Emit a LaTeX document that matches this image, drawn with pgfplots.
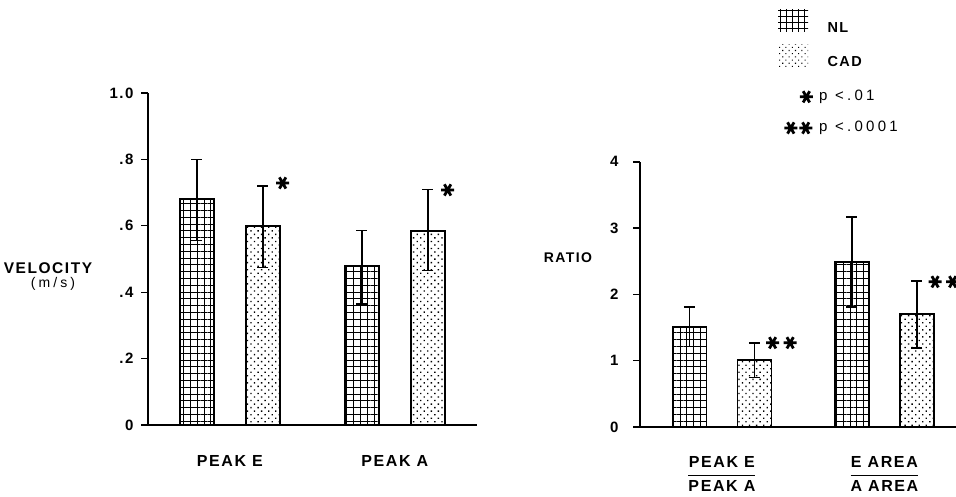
\documentclass[border=0pt]{standalone}
\usepackage{pgfplots}
\pgfplotsset{compat=1.18}
\usetikzlibrary{patterns.meta}
\usepackage{fontspec}
\setmainfont{Liberation Sans}[LetterSpace=10]
\newfontfamily\legfont{Liberation Sans}[LetterSpace=22]
\setlength\arrayrulewidth{1.3pt}
\begin{document}
\begin{tikzpicture}[x=1pt,y=1pt]
\useasboundingbox (0pt,0pt) rectangle (956pt,496pt);
\pgfplotsset{
  nlbar/.style={ybar, bar width=34pt, bar shift=0pt, draw=black, line width=1.8pt,
    fill=white, postaction={pattern={Hatch[angle=0,distance=6.8pt,line width=0.9pt]}},
    error bars/.cd, y dir=both, y explicit,
    error bar style={line width=1.4pt,black},
    error mark options={rotate=90, mark size=5.5pt, line width=1.4pt, black}},
  cadbar/.style={ybar, bar width=34pt, bar shift=0pt, draw=black, line width=1.8pt,
    fill=white, postaction={pattern={Dots[angle=45,distance=5pt,radius=0.95pt]}},
    error bars/.cd, y dir=both, y explicit,
    error bar style={line width=1.4pt,black},
    error mark options={rotate=90, mark size=5.5pt, line width=1.4pt, black}},
  starmark/.style={only marks, mark=asterisk,
    mark options={rotate=90, mark size=6.5pt, line width=2.8pt, black}},
  myaxis/.style={
    anchor=south west,
    axis x line=bottom, axis y line=left,
    axis line style={-, line width=1.7pt},
    tick align=outside, major tick length=7pt,
    tick style={line width=1.4pt, black},
    xtick style={draw=none},
    clip=false,
    font=\fontsize{15}{17}\selectfont\bfseries,
    xticklabel style={font=\fontsize{16}{18}\selectfont\bfseries, align=center},
    yticklabel style={font=\fontsize{15}{17}\selectfont\bfseries},
  },
}
% ---------------- left panel
\begin{axis}[myaxis, at={(148pt,71pt)}, x=66pt, y=332pt,
  xmin=-0.74, xmax=4.24, ymin=0, ymax=1,
  yticklabel style={xshift=-4pt},
  xticklabel style={yshift=-20pt},
  ytick={0,0.2,0.4,0.6,0.8,1.0}, yticklabels={0,.2,.4,.6,.8,1.0},
  xtick={0.5,3}, xticklabels={PEAK E,PEAK A}]
\addplot[nlbar] coordinates {(0,0.68) += (0,0.12) -= (0,0.125) (2.5,0.48) += (0,0.105) -= (0,0.115)};
\addplot[cadbar] coordinates {(1,0.60) += (0,0.12) -= (0,0.125) (3.5,0.585) += (0,0.125) -= (0,0.12)};
\addplot[starmark] coordinates {(1.30,0.729) (3.80,0.708)};
\end{axis}
% ---------------- right panel
\begin{axis}[myaxis, at={(640pt,69pt)}, x=65pt, y=66.3pt,
  xmin=-0.76, xmax=4.3, ymin=0, ymax=4,
  yticklabel style={xshift=-11pt},
  xticklabel style={yshift=-17pt},
  ytick={0,1,2,3,4}, yticklabels={0,1,2,3,4},
  xtick={0.5,3},
  xticklabels={{\begin{tabular}{@{}c@{}}PEAK E\\[2pt]\hline\noalign{\vskip3pt}PEAK A\end{tabular}},
               {\begin{tabular}{@{}c@{}}E AREA\\[2pt]\hline\noalign{\vskip3pt}A AREA\end{tabular}}}]
\addplot[nlbar] coordinates {(0,1.51) += (0,0.30) -= (0,0.30) (2.5,2.49) += (0,0.68) -= (0,0.68)};
\addplot[cadbar] coordinates {(1,1.01) += (0,0.26) -= (0,0.26) (3.5,1.70) += (0,0.50) -= (0,0.51)};
\addplot[starmark] coordinates {(1.28,1.27) (1.55,1.27) (3.78,2.19) (4.05,2.19)};
% legend stars
\addplot[starmark] coordinates {(1.80,4.98) (1.56,4.51) (1.79,4.51)};
\end{axis}
% ---------------- labels
\node[font=\fontsize{15.5}{17}\selectfont\bfseries] at (48pt,228pt) {VELOCITY};
\node[font=\fontsize{14}{16}\legfont] at (53pt,212pt) {(m/s)};
\node[font=\fontsize{14}{16}\selectfont\bfseries] at (568pt,238pt) {RATIO};
% ---------------- legend
\fill[pattern={Hatch[angle=0,distance=6pt,line width=0.9pt]}] (778pt,464pt) rectangle (808pt,486pt);
\fill[pattern={Dots[angle=45,distance=4.5pt,radius=0.75pt]}] (778pt,429pt) rectangle (808pt,451pt);
\node[anchor=west, font=\fontsize{14.5}{16}\selectfont\bfseries] at (824pt,468pt) {NL};
\node[anchor=west, font=\fontsize{14.5}{16}\selectfont\bfseries] at (824pt,434pt) {CAD};
\node[anchor=west, inner sep=0pt, font=\fontsize{15}{17}\legfont] at (819pt,399pt) {p <.01};
\node[anchor=west, inner sep=0pt, font=\fontsize{15}{17}\legfont] at (819pt,368pt) {p <.0001};
\end{tikzpicture}
\end{document}
